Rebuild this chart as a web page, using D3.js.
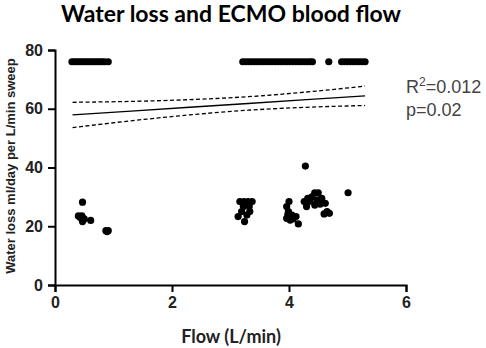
<!DOCTYPE html>
<html>
<head>
<meta charset="utf-8">
<script src="https://cdn.jsdelivr.net/npm/d3@7"></script>
<style>
  body { margin: 0; background: #fff; }
  svg { display: block; }
</style>
</head>
<body>
<div id="chart"></div>
<script>
// points with water loss at the top of the plot (all at ~76)
const topFlow = [0.29, 0.33, 0.37, 0.41, 0.45, 0.49, 0.53, 0.57, 0.61, 0.65, 0.69, 0.73, 0.77, 0.81, 0.85, 0.91,
    3.21, 3.26, 3.31, 3.36, 3.41, 3.46, 3.51, 3.56, 3.61, 3.66, 3.71, 3.76, 3.81, 3.86, 3.91, 3.96,
    4.01, 4.06, 4.11, 4.16, 4.21, 4.26, 4.31, 4.36, 4.40, 4.68,
    4.90, 4.95, 5.00, 5.05, 5.10, 5.15, 5.20, 5.25, 5.30];
const topLoss = topFlow.map(() => 76);

// lower points
const lowFlow = [0.47, 0.40, 0.46, 0.43, 0.47, 0.50, 0.61, 0.87, 0.91, 0.89,
    3.16, 3.23, 3.30, 3.37, 3.22, 3.32, 3.19, 3.33, 3.13, 3.28, 3.24,
    4.00, 3.96, 3.99, 4.05, 3.96, 4.02, 4.16, 4.12, 3.98, 4.07,
    4.28,
    4.26, 4.32, 4.44, 4.50, 4.39, 4.30, 4.48, 4.56, 4.62, 4.44, 4.65, 4.69, 4.60, 4.36, 4.53,
    5.01];
const lowLoss = [28.2, 23.5, 23.5, 23.0, 21.6, 22.5, 22.0, 18.5, 18.5, 18.2,
    28.4, 28.4, 28.4, 28.4, 26.7, 26.7, 25.0, 25.0, 23.3, 23.8, 21.6,
    28.4, 26.7, 25.0, 23.8, 22.7, 22.1, 20.8, 23.3, 24.0, 22.5,
    40.5,
    28.4, 29.5, 31.4, 31.4, 30.0, 26.7, 29.0, 29.5, 27.8, 27.2, 25.0, 24.4, 24.2, 28.5, 27.5,
    31.4];

// regression fit and confidence band
const fitX = [0.3, 1.3, 2.3, 3.3, 4.3, 5.3];
const fitY = [57.9, 59.2, 60.5, 61.8, 63.1, 64.4];
const ciUpper = [62.2, 62.5, 63.1, 64.1, 65.7, 67.7];
const ciLower = [53.6, 55.9, 57.9, 59.5, 60.5, 61.1];

const xTicks = [0, 2, 4, 6];
const yTicks = [0, 20, 40, 60, 80];

const W = 486, H = 348;
const margin = { top: 50, left: 55 };
const width = 351, height = 235;

const svg = d3.select("#chart").append("svg")
    .attr("width", W)
    .attr("height", H);

const g = svg.append("g")
    .attr("transform", `translate(${margin.left},${margin.top})`);

const x = d3.scaleLinear().domain([0, 6]).range([0, width]);
const y = d3.scaleLinear().domain([0, 80]).range([height, 0]);

// axes
const xAxis = g.append("g")
    .attr("transform", `translate(0,${height})`)
    .call(d3.axisBottom(x).tickValues(xTicks).tickFormat(d3.format("d")).tickSize(7).tickPadding(5));
const yAxis = g.append("g")
    .call(d3.axisLeft(y).tickValues(yTicks).tickFormat(d3.format("d")).tickSize(7).tickPadding(5));

[xAxis, yAxis].forEach(a => {
    a.selectAll("path, line").attr("stroke", "#000").attr("stroke-width", 2);
    a.selectAll("text")
        .attr("fill", "#222")
        .style("font-family", "'Liberation Sans', Arial, sans-serif")
        .style("font-weight", "bold")
        .style("font-size", "16px");
});

// fit lines
const line = d3.line().x(d => x(d[0])).y(d => y(d[1])).curve(d3.curveMonotoneX);

g.append("path")
    .datum(fitX.map((v, i) => [v, ciUpper[i]]))
    .attr("d", line)
    .attr("fill", "none").attr("stroke", "#000").attr("stroke-width", 1.3)
    .attr("stroke-dasharray", "4,2.5");
g.append("path")
    .datum(fitX.map((v, i) => [v, ciLower[i]]))
    .attr("d", line)
    .attr("fill", "none").attr("stroke", "#000").attr("stroke-width", 1.3)
    .attr("stroke-dasharray", "4,2.5");
g.append("path")
    .datum(fitX.map((v, i) => [v, fitY[i]]))
    .attr("d", line)
    .attr("fill", "none").attr("stroke", "#000").attr("stroke-width", 1.4);

// points
const pts = topFlow.map((v, i) => [v, topLoss[i]])
    .concat(lowFlow.map((v, i) => [v, lowLoss[i]]));

g.selectAll("circle.pt")
    .data(pts)
    .enter()
    .append("circle")
    .attr("class", "pt")
    .attr("cx", d => x(d[0]))
    .attr("cy", d => y(d[1]))
    .attr("r", 3.6)
    .attr("fill", "#000");

// titles
svg.append("text")
    .attr("x", 231)
    .attr("y", 22)
    .attr("text-anchor", "middle")
    .style("font-family", "Lato, sans-serif")
    .style("font-weight", "bold")
    .style("font-size", "23px")
    .attr("fill", "#000")
    .text("Water loss and ECMO blood flow");

svg.append("text")
    .attr("x", 231)
    .attr("y", 343)
    .attr("text-anchor", "middle")
    .style("font-family", "Lato, sans-serif")
    .style("font-weight", "bold")
    .style("font-size", "18px")
    .attr("fill", "#222")
    .text("Flow (L/min)");

svg.append("text")
    .attr("transform", "translate(15,166) rotate(-90)")
    .attr("text-anchor", "middle")
    .style("font-family", "'Liberation Sans', Arial, sans-serif")
    .style("font-weight", "bold")
    .style("font-size", "13px")
    .attr("fill", "#222")
    .text("Water loss ml/day per L/min sweep");

// stats annotation
const stat = svg.append("text")
    .attr("x", 406)
    .attr("y", 93)
    .style("font-family", "'Liberation Sans', Arial, sans-serif")
    .style("font-size", "18px")
    .attr("fill", "#444");
stat.append("tspan").text("R");
stat.append("tspan").attr("dy", -7).style("font-size", "12px").text("2");
stat.append("tspan").attr("dy", 7).text("=0.012");

svg.append("text")
    .attr("x", 406)
    .attr("y", 116)
    .style("font-family", "'Liberation Sans', Arial, sans-serif")
    .style("font-size", "18px")
    .attr("fill", "#444")
    .text("p=0.02");
</script>
</body>
</html>
